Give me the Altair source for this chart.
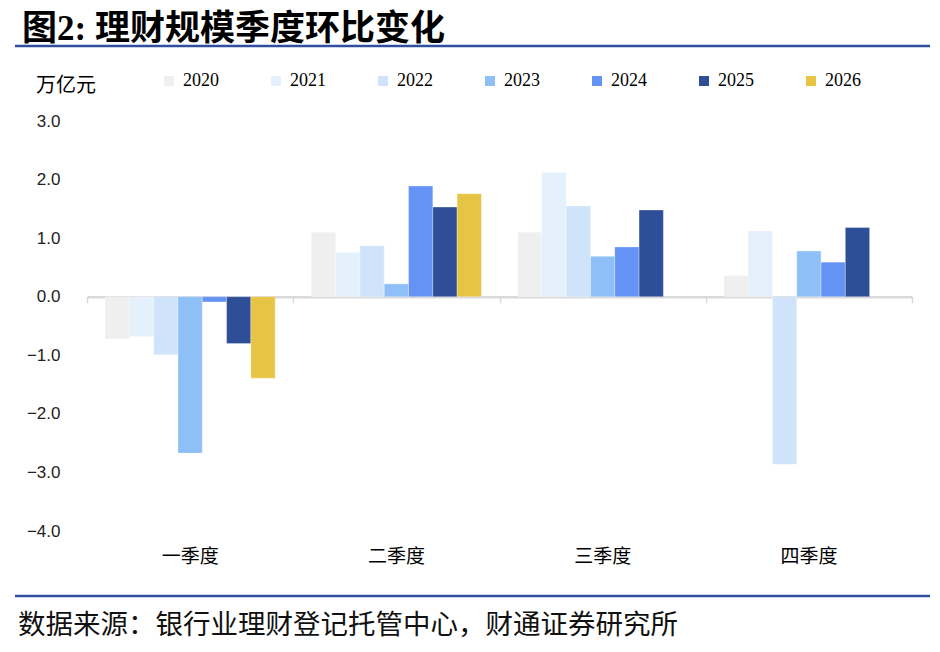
import altair as alt
import pandas as pd

quarters = ["一季度", "二季度", "三季度", "四季度"]
years = ["2020", "2021", "2022", "2023", "2024", "2025", "2026"]
v2020 = [-0.72, 1.10, 1.10, 0.36]
v2021 = [-0.68, 0.76, 2.12, 1.12]
v2022 = [-0.99, 0.87, 1.55, -2.86]
v2023 = [-2.67, 0.22, 0.69, 0.78]
v2024 = [-0.09, 1.89, 0.85, 0.59]
v2025 = [-0.80, 1.53, 1.48, 1.18]
v2026 = [-1.39, 1.76, None, None]
series = [v2020, v2021, v2022, v2023, v2024, v2025, v2026]
colors = ["#EFEFEF", "#E4F0FC", "#CFE4FA", "#8EC0F7", "#6593F5", "#2F4E98", "#E8C445"]
y_ticks = [-4, -3, -2, -1, 0, 1, 2, 3]

title_text = "图2: 理财规模季度环比变化"
unit_text = "万亿元"
source_text = "数据来源：银行业理财登记托管中心，财通证券研究所"

rows = []
for yr, vals in zip(years, series):
    for q, v in zip(quarters, vals):
        if v is not None:
            rows.append({"quarter": q, "year": yr, "value": v})
df = pd.DataFrame(rows)

W, H = 825, 410
zero_offset = -H * 4 / 7

bars = alt.Chart(df).mark_bar(stroke="white", strokeWidth=0.6, strokeOpacity=0.5).encode(
    x=alt.X("quarter:N", sort=quarters,
            scale=alt.Scale(paddingInner=0, paddingOuter=0),
            axis=alt.Axis(title=None, orient="bottom", domain=False, ticks=False, labelAngle=0,
                          labelFont="Noto Sans CJK SC", labelFontSize=19,
                          labelColor="#000000", labelPadding=16)),
    xOffset=alt.XOffset("year:N", sort=years,
                        scale=alt.Scale(domain=years, paddingInner=0, paddingOuter=0.744)),
    y=alt.Y("value:Q", scale=alt.Scale(domain=[-4, 3], nice=False, zero=False),
            axis=alt.Axis(title=None, values=y_ticks, format=".1f", domain=False,
                          ticks=False, grid=False, labelFont="Liberation Sans",
                          labelFontSize=17, labelColor="#222222", labelPadding=27)),
    color=alt.Color("year:N", sort=years,
                    scale=alt.Scale(domain=years, range=colors),
                    legend=alt.Legend(title=None, orient="none", legendX=73, legendY=-49,
                                      direction="horizontal", columns=7, columnPadding=48,
                                      symbolType="square", symbolSize=100,
                                      symbolStrokeWidth=0, symbolOpacity=1,
                                      labelFont="Liberation Serif", labelFontSize=18,
                                      labelColor="#000000", labelOffset=5, padding=0)),
)

zero_axis = alt.Chart(df).mark_point(opacity=0).encode(
    x=alt.X("quarter:N", sort=quarters,
            axis=alt.Axis(title=None, labels=False, domain=True, domainColor="#D9D9D9",
                          domainWidth=2.5, ticks=True, tickColor="#D9D9D9", tickWidth=1.5,
                          tickSize=6, tickBand="extent", offset=zero_offset,
                          orient="bottom")),
)


def text_layer(txt, x, y, size, weight="normal", font="Noto Sans CJK SC", color="#000000"):
    return alt.Chart(pd.DataFrame({"t": [txt]})).mark_text(
        align="left", baseline="middle", font=font, fontSize=size,
        fontWeight=weight, color=color
    ).encode(text="t:N", x=alt.value(x), y=alt.value(y))


def hline(y):
    return alt.Chart(pd.DataFrame({"k": [0]})).mark_rule(
        color="#2F4F9E", strokeWidth=2.5
    ).encode(x=alt.value(-72), x2=alt.value(843), y=alt.value(y))


title = text_layer(title_text, -65, -92, 35, weight="bold",
                   font="Liberation Serif, Noto Sans CJK SC")
unit = text_layer(unit_text, -51, -35, 20)
source = text_layer(source_text, -69, 505, 27.5, color="#111111")

chart = alt.layer(
    bars, zero_axis, hline(-75), hline(475), title, unit, source
).resolve_axis(x="independent").properties(
    width=W, height=H,
    autosize=alt.AutoSizeParams(type="none"),
    padding={"left": 79, "top": 113, "right": 20, "bottom": 113},
    background="white",
).configure_view(stroke=None)

chart.save("out.html", embed_options={"renderer": "svg", "actions": False})
